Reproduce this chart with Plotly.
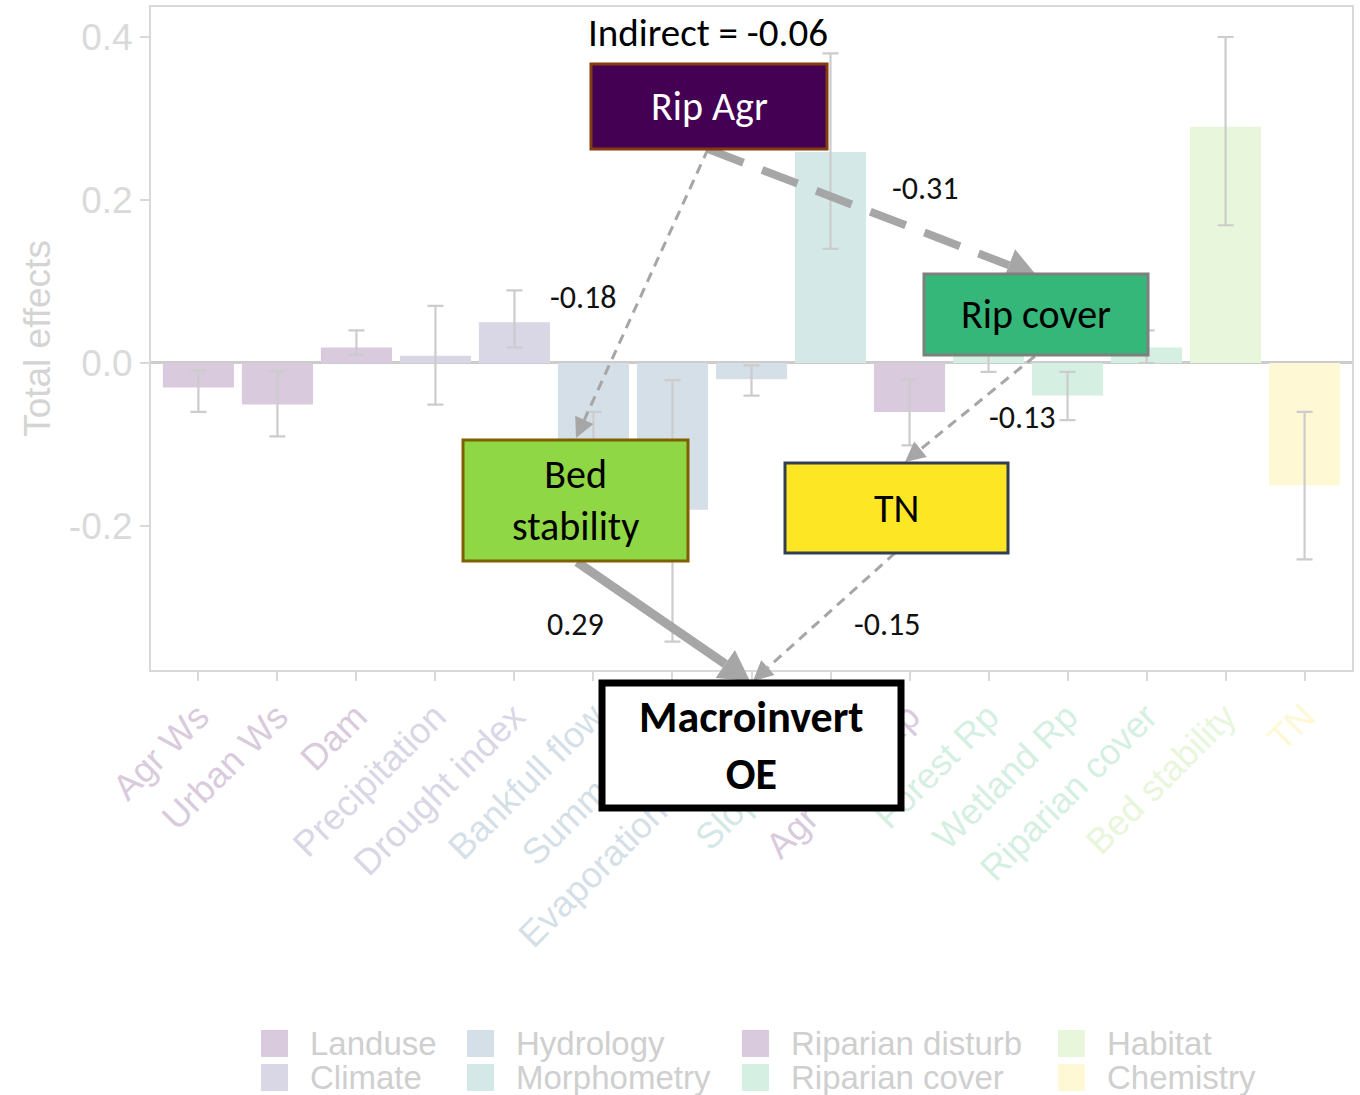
import plotly.graph_objects as go

# ---------------- data ----------------
categories = ["Agr Ws", "Urban Ws", "Dam", "Precipitation", "Drought index",
              "Bankfull flow", "Summer flow", "Evaporation E:I ratio", "Slope index",
              "Agr Crop Rp", "Forest Rp", "Wetland Rp", "Riparian cover",
              "Bed stability", "TN"]
category_group = ["Landuse", "Landuse", "Landuse", "Climate", "Climate",
                  "Hydrology", "Hydrology", "Hydrology", "Morphometry",
                  "Riparian disturb", "Riparian cover", "Riparian cover", "Riparian cover",
                  "Habitat", "Chemistry"]
total_effect = [-0.030, -0.051, 0.019, 0.009, 0.050,
                -0.120, -0.180, -0.020, 0.259,
                -0.060, 0.009, -0.040, 0.019,
                0.290, -0.150]
ci_lower = [-0.060, -0.090, 0.010, -0.051, 0.019,
            -0.190, -0.342, -0.040, 0.140,
            -0.101, -0.011, -0.070, 0.000,
            0.169, -0.241]
ci_upper = [-0.009, -0.010, 0.040, 0.070, 0.089,
            -0.060, -0.021, -0.003, 0.380,
            -0.020, 0.030, -0.011, 0.040,
            0.400, -0.060]

group_names = ["Landuse", "Climate", "Hydrology", "Morphometry",
               "Riparian disturb", "Riparian cover", "Habitat", "Chemistry"]
group_colors = ["#d9cbdd", "#d9d6e6", "#d5dfe8", "#d3e8e7",
                "#d9cbdd", "#d5efe2", "#e8f6db", "#fef9d4"]

y_ticks = [-0.2, 0.0, 0.2, 0.4]

# path model: nodes and standardized paths
path_nodes = ["Rip Agr", "Rip cover", "Bed stability", "TN", "Macroinvert OE"]
path_from = ["Rip Agr", "Rip Agr", "Rip cover", "Bed stability", "TN"]
path_to = ["Rip cover", "Bed stability", "TN", "Macroinvert OE", "Macroinvert OE"]
path_coef = [-0.31, -0.18, -0.13, 0.29, -0.15]
indirect_effect = -0.06

# ---------------- layout geometry (pixels) ----------------
W, H = 1360, 1095
ML, MR, MT, MB = 151, 8, 7, 425
PW, PH = W - ML - MR, H - MT - MB


def px(x):
    return (x - ML) / PW


def py(y):
    return (H - MB - y) / PH


color_of = dict(zip(group_names, group_colors))
bar_colors = [color_of[g] for g in category_group]

fig = go.Figure()
fig.add_trace(go.Bar(
    x=categories, y=total_effect, width=0.9,
    marker=dict(color=bar_colors, line=dict(width=0)),
    error_y=dict(type="data", symmetric=False,
                 array=[u - v for u, v in zip(ci_upper, total_effect)],
                 arrayminus=[v - l for v, l in zip(total_effect, ci_lower)],
                 color="#cccccc", thickness=2.2, width=8),
    showlegend=False, hoverinfo="skip",
))

axis_grey = "#d9d9d9"
tick_text = [f"<span style='color:{c}'>{n}</span>" for n, c in zip(categories, bar_colors)]

fig.update_layout(
    width=W, height=H,
    margin=dict(l=ML, r=MR, t=MT, b=MB, autoexpand=False),
    paper_bgcolor="white", plot_bgcolor="white",
    font=dict(family="Liberation Sans, Arial, sans-serif"),
    showlegend=False,
    xaxis=dict(
        type="category", categoryorder="array", categoryarray=categories,
        range=[-0.6, 14.6], tickmode="array", tickvals=categories, ticktext=tick_text,
        tickangle=-45, tickfont=dict(size=36),
        showline=True, mirror=True, linecolor=axis_grey, linewidth=2,
        ticks="outside", ticklen=9, tickwidth=2, tickcolor=axis_grey,
        showgrid=False, zeroline=False, automargin=False,
    ),
    yaxis=dict(
        range=[-0.3767, 0.4368], tickmode="array", tickvals=y_ticks,
        ticktext=[f"{v:.1f}" for v in y_ticks],
        tickfont=dict(size=37, color="#dadada"),
        title=dict(text="Total effects", font=dict(size=37, color="#d4d4d4"), standoff=7),
        showline=True, mirror=True, linecolor=axis_grey, linewidth=2,
        ticks="outside", ticklen=9, tickwidth=2, tickcolor=axis_grey,
        showgrid=False, zeroline=True, zerolinecolor="#cccccc", zerolinewidth=3,
        automargin=False,
    ),
)

# ---------------- legend (two rows, column-major) ----------------
legend_cols_x = [261, 467, 742, 1058]
legend_rows_y = [1043, 1077]
for i, (name, col) in enumerate(zip(group_names, group_colors)):
    cx = legend_cols_x[i // 2]
    cy = legend_rows_y[i % 2]
    fig.add_shape(type="rect", xref="paper", yref="paper",
                  x0=px(cx), x1=px(cx + 27), y0=py(cy + 14), y1=py(cy - 13),
                  fillcolor=col, line=dict(width=0))
    fig.add_annotation(xref="paper", yref="paper", x=px(cx + 47), y=py(cy),
                       text=name, showarrow=False, xanchor="left", yanchor="middle",
                       font=dict(size=33, color="#cfcfcf",
                                 family="Liberation Sans, Arial"))

# ---------------- path diagram ----------------
diagram_font = "Carlito, Lato, sans-serif"
node_box = {
    "Rip Agr": (591, 64, 827, 149),
    "Rip cover": (924, 274, 1148, 355),
    "Bed stability": (463, 440, 688, 561),
    "TN": (785, 463, 1008, 553),
    "Macroinvert OE": (602, 683, 901, 808),
}
node_fill = {"Rip Agr": "#440154", "Rip cover": "#35b779", "Bed stability": "#8fd744",
             "TN": "#fde725", "Macroinvert OE": "#ffffff"}
node_line = {"Rip Agr": ("#843c0c", 3), "Rip cover": ("#7f7f7f", 3),
             "Bed stability": ("#7f6000", 3), "TN": ("#333f50", 3),
             "Macroinvert OE": ("#000000", 7)}
node_label = {"Rip Agr": "Rip Agr", "Rip cover": "Rip cover",
              "Bed stability": "Bed<br>stability", "TN": "TN",
              "Macroinvert OE": "<b>Macroinvert<br>OE</b>"}
node_text_color = {"Rip Agr": "white"}

# edge end points on the box borders and label anchors
edge_geom = [
    ((708, 149), (1037, 276), 8, "38px,20px", 30, 17, (925, 188)),
    ((708, 149), (576, 438), 3, "10px,7px", 20, 10, (583, 297)),
    ((1035, 356), (905, 462), 3, "10px,7px", 20, 10, (1022, 417)),
    ((577, 562), (750, 681), 9, "solid", 30, 17, (575, 624)),
    ((895, 553), (753, 681), 3, "10px,7px", 20, 10, (887, 624)),
]
edge_grey = "#a6a6a6"

for (p0, p1, lw, dash, hl, hw, lab_xy), coef in zip(edge_geom, path_coef):
    dx, dy = p1[0] - p0[0], p1[1] - p0[1]
    n = (dx * dx + dy * dy) ** 0.5
    ux, uy = dx / n, dy / n
    bx, by = p1[0] - ux * hl, p1[1] - uy * hl
    fig.add_shape(type="line", xref="paper", yref="paper",
                  x0=px(p0[0]), y0=py(p0[1]), x1=px(bx), y1=py(by),
                  line=dict(color=edge_grey, width=lw, dash=dash))
    pts = [(p1[0], p1[1]), (bx - uy * hw, by + ux * hw), (bx + uy * hw, by - ux * hw)]
    path = "M " + " L ".join(f"{px(a):.5f},{py(b):.5f}" for a, b in pts) + " Z"
    fig.add_shape(type="path", xref="paper", yref="paper", path=path,
                  fillcolor=edge_grey, line=dict(width=0))
    fig.add_annotation(xref="paper", yref="paper", x=px(lab_xy[0]), y=py(lab_xy[1]),
                       text=f"{coef:.2f}", showarrow=False,
                       xanchor="center", yanchor="middle",
                       font=dict(size=32, color="#111111", family=diagram_font))

for node in path_nodes:
    x0, y0, x1, y1 = node_box[node]
    col, w = node_line[node]
    fig.add_shape(type="rect", xref="paper", yref="paper",
                  x0=px(x0), x1=px(x1), y0=py(y1), y1=py(y0),
                  fillcolor=node_fill[node], line=dict(color=col, width=w))
    big = node == "Macroinvert OE"
    fig.add_annotation(xref="paper", yref="paper",
                       x=px((x0 + x1) / 2), y=py((y0 + y1) / 2),
                       text=node_label[node], showarrow=False,
                       xanchor="center", yanchor="middle",
                       font=dict(size=44 if big else 40,
                                 color=node_text_color.get(node, "#000000"),
                                 family=diagram_font))

fig.add_annotation(xref="paper", yref="paper", x=px(708), y=py(33),
                   text=f"Indirect = {indirect_effect:.2f}", showarrow=False,
                   xanchor="center", yanchor="middle",
                   font=dict(size=39, color="#000000", family=diagram_font))

fig.write_html("out.html")
